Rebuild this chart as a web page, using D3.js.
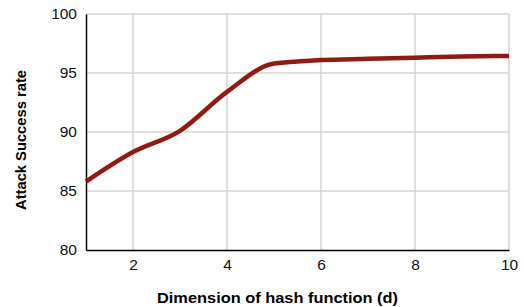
<!DOCTYPE html>
<html><head><meta charset="utf-8">
<script src="https://cdn.jsdelivr.net/npm/d3@7"></script>
<style>body{margin:0;background:#fff}svg{display:block}text{font-family:"Liberation Sans",Arial,sans-serif}</style>
</head><body>
<svg id="c" width="524" height="307"></svg>
<script>
const dims = [1,2,3,4,5,6,7,8,9,10];
const successRate = [85.8,88.3,90.1,93.4,95.8,96.1,96.2,96.3,96.4,96.45];
const xTicks = [2,4,6,8,10];
const yTicks = [80,85,90,95,100];

const svg = d3.select("#c");
const m = {l:86, r:509, t:14, b:250};
const x = d3.scaleLinear().domain([1,10]).range([m.l, m.r]);
const y = d3.scaleLinear().domain([80,100]).range([m.b, m.t]);

// grid
svg.append("g").selectAll("line").data(xTicks).join("line")
  .attr("x1", d=>x(d)).attr("x2", d=>x(d)).attr("y1", m.t).attr("y2", m.b)
  .attr("stroke","#d4d4d4").attr("stroke-width",1.5);
svg.append("g").selectAll("line").data(yTicks.filter(d=>d>80)).join("line")
  .attr("x1", m.l).attr("x2", m.r).attr("y1", d=>y(d)).attr("y2", d=>y(d))
  .attr("stroke","#d4d4d4").attr("stroke-width",1.5);

// axes
const ya = svg.append("g").attr("transform",`translate(${m.l},0)`)
  .call(d3.axisLeft(y).tickValues(yTicks).tickSize(0).tickPadding(9));
ya.select(".domain").attr("stroke","#000").attr("stroke-width",1.5);
ya.selectAll("text").attr("font-size",15.5).attr("fill","#111");
const xa = svg.append("g").attr("transform",`translate(0,${m.b})`)
  .call(d3.axisBottom(x).tickValues(xTicks).tickSize(0).tickPadding(9));
xa.select(".domain").attr("stroke","#000").attr("stroke-width",1.5);
xa.selectAll("text").attr("font-size",15.5).attr("fill","#111");

// line
const line = d3.line().x((d,i)=>x(dims[i])).y(d=>y(d)).curve(d3.curveMonotoneX);
svg.append("path").datum(successRate).attr("d", line)
  .attr("fill","none").attr("stroke","#8e1c12").attr("stroke-width",4.5)
  .attr("stroke-linecap","butt");

// titles
svg.append("text").attr("x",277.5).attr("y",303).attr("text-anchor","middle")
  .attr("font-size",15).attr("font-weight","bold")
  .attr("textLength",241).attr("lengthAdjust","spacingAndGlyphs")
  .text("Dimension of hash function (d)");
svg.append("text").attr("transform","translate(25.5,140) rotate(-90)").attr("text-anchor","middle")
  .attr("font-size",15).attr("font-weight","bold")
  .attr("textLength",140).attr("lengthAdjust","spacingAndGlyphs")
  .text("Attack Success rate");
</script>
</body></html>
